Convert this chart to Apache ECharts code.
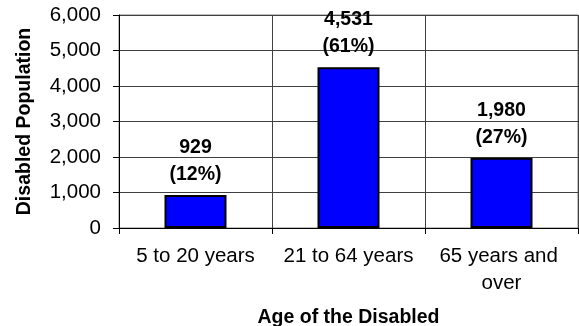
<!DOCTYPE html>
<html>
<head>
<meta charset="utf-8">
<script src="https://cdn.jsdelivr.net/npm/echarts@6/dist/echarts.min.js"></script>
<style>html,body{margin:0;padding:0;background:#fff;}#c{width:579px;height:326px;}</style>
</head>
<body>
<div id="c"></div>
<script>
var categories = ['5 to 20 years', '21 to 64 years', '65 years and over'];
var values = [929, 4531, 1980];
var percents = [12, 61, 27];
var yTicks = [0, 1000, 2000, 3000, 4000, 5000, 6000];

var FONT = '"Liberation Sans", Arial, sans-serif';
var chart = echarts.init(document.getElementById('c'), null, {renderer: 'canvas'});
chart.setOption({
  animation: false,
  backgroundColor: '#ffffff',
  textStyle: {fontFamily: FONT},
  grid: {left: 119, right: 1, top: 15, bottom: 98, outerBoundsMode: 'none', containLabel: false,
         show: true, borderColor: '#808080', borderWidth: 1},
  xAxis: {
    type: 'category',
    data: categories,
    name: 'Age of the Disabled',
    nameLocation: 'middle',
    nameGap: 80,
    nameTextStyle: {fontFamily: FONT, fontSize: 19.5, fontWeight: 'bold', color: '#000'},
    axisLine: {lineStyle: {color: '#000', width: 1}},
    axisTick: {show: true, length: 6, lineStyle: {color: '#000'}},
    splitLine: {show: true, lineStyle: {color: '#404040', width: 1}},
    axisLabel: {
      interval: 0, margin: 15, fontFamily: FONT, fontSize: 20.5, color: '#000',
      lineHeight: 27, width: 140, overflow: 'break'
    }
  },
  yAxis: {
    type: 'value',
    min: yTicks[0],
    max: yTicks[yTicks.length - 1],
    interval: yTicks[1] - yTicks[0],
    name: 'Disabled Population',
    nameLocation: 'middle',
    nameGap: 84,
    nameTextStyle: {fontFamily: FONT, fontSize: 19.5, fontWeight: 'bold', color: '#000'},
    axisLine: {show: true, lineStyle: {color: '#000', width: 1}},
    axisTick: {show: true, length: 6, lineStyle: {color: '#000'}},
    splitLine: {show: true, lineStyle: {color: '#404040', width: 1}},
    axisLabel: {
      margin: 18, fontFamily: FONT, fontSize: 20.5, color: '#000',
      formatter: function (v) { return v.toLocaleString('en-US'); }
    }
  },
  series: [{
    type: 'bar',
    data: values,
    barWidth: 62,
    itemStyle: {color: '#0000FF', borderColor: '#000', borderWidth: 2},
    label: {
      show: true,
      position: 'top',
      distance: 7,
      fontFamily: FONT,
      fontSize: 19.5,
      fontWeight: 'bold',
      color: '#000',
      lineHeight: 27,
      formatter: function (p) {
        return p.value.toLocaleString('en-US') + '\n(' + percents[p.dataIndex] + '%)';
      }
    }
  }]
});
</script>
</body>
</html>
